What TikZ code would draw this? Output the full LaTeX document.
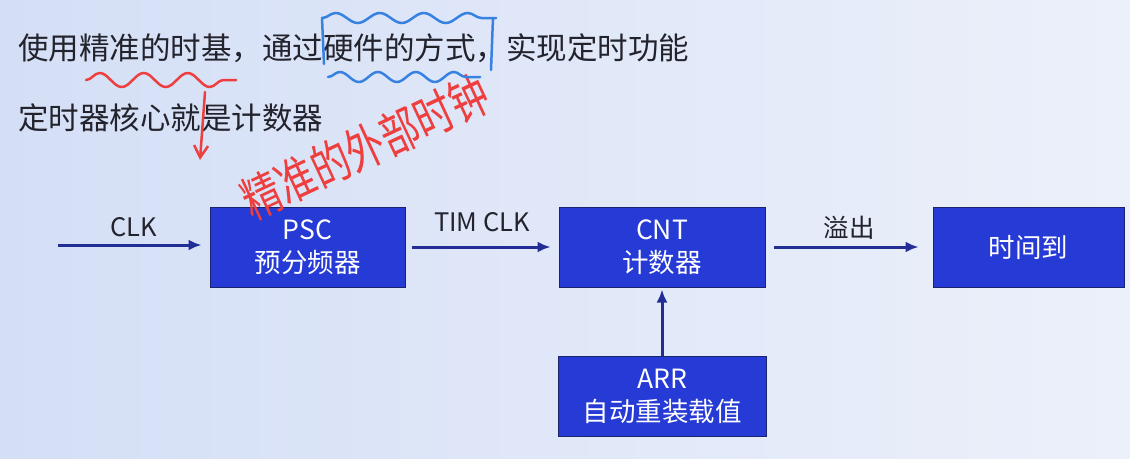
\documentclass[tikz,border=0pt]{standalone}
\usepackage{fontspec}
\newfontfamily\cjk{Noto Sans CJK SC}
\usetikzlibrary{arrows.meta,positioning,decorations.pathmorphing}
\definecolor{bgleft}{RGB}{212,223,246}
\definecolor{bgright}{RGB}{236,240,250}
\definecolor{boxblue}{RGB}{38,58,214}
\definecolor{boxedge}{RGB}{25,35,110}
\definecolor{linkblue}{RGB}{35,45,150}
\definecolor{textgray}{RGB}{35,35,45}
\definecolor{inkred}{RGB}{238,62,62}
\definecolor{inkblue}{RGB}{55,130,225}
\tikzset{>=Latex}
\tikzset{
  box/.style={draw=boxedge, line width=1pt, fill=boxblue, text=white, align=center,
    minimum width=195pt, minimum height=80pt, inner sep=0pt,
    font=\cjk\fontsize{26.5}{33}\selectfont},
  arrow/.style={-{Latex[length=13pt,width=11pt]}, line width=3pt, draw=linkblue},
  lbl/.style={text=textgray, font=\cjk\fontsize{25.5}{28}\selectfont},
  headline/.style={text=textgray, anchor=west, inner sep=0pt, font=\cjk\fontsize{30.5}{34}\selectfont},
  redink/.style={draw=inkred, line width=2.5pt, line cap=round},
  blueink/.style={draw=inkblue, line width=2.5pt, line cap=round},
  wavy/.style={decorate, decoration={snake, segment length=40pt, amplitude=5pt}},
}
\begin{document}
\begin{tikzpicture}[x=1pt, y=-1pt]
\shade[left color=bgleft, right color=bgright] (0,0) rectangle (1130,458);
\useasboundingbox (0,0) rectangle (1130,458);

\node[headline] (line1) at (18,48) {使用精准的时基，通过硬件的方式，实现定时功能};
\node[headline] (line2) at (18,118) {定时器核心就是计数器};

\node[box] (psc) at (307.5,247) {PSC\\预分频器};
\node[box, minimum width=206pt, right=153pt of psc] (cnt) {CNT\\计数器};
\node[box, minimum width=191pt, right=167pt of cnt] (timeup) {时间到};
\node[box, minimum width=208pt, below=68pt of cnt] (arr) {ARR\\自动重装载值};

\coordinate (clkin) at (58,245);
\draw[arrow, shorten >=8pt] (clkin) -- node[lbl, above=3pt]{CLK} (clkin -| psc.west);
\draw[arrow, shorten <=6pt, shorten >=8pt] (psc.east) -- node[lbl, above=10pt]{TIM CLK} (cnt.west);
\draw[arrow, shorten <=8pt, shorten >=14pt] (cnt.east) -- node[lbl, above=3pt]{溢出} (timeup.west);
\draw[arrow, shorten >=2pt] (arr.north) -- (cnt.south);

% hand-drawn notes
\draw[redink, wavy, decoration={segment length=44pt, amplitude=7pt}] (86,80) -- (236,80);
\draw[redink, -{Straight Barb[length=12pt,width=14pt]}] (205,92) -- (200,160);
\node[rotate=25, xscale=1.0, yscale=1.3, text=inkred, font=\cjk\fontsize{38}{38}\selectfont] (note) at (365,147) {精准的外部时钟};
\draw[blueink, wavy, decoration={segment length=44pt}] (322,18) -- (496,18);
\draw[blueink] (322,18) -- (324,64);
\draw[blueink] (493,18) -- (491,70);
\draw[blueink, wavy, decoration={segment length=38pt}] (328,77) -- (480,77);
\end{tikzpicture}
\end{document}
